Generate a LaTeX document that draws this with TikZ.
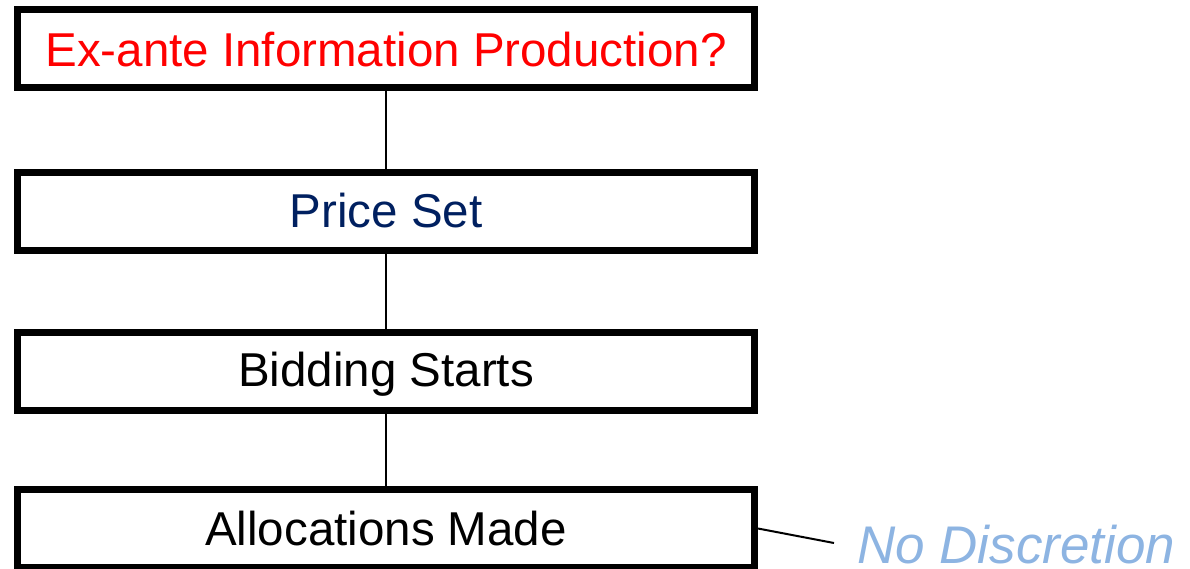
\documentclass[tikz,border=0pt]{standalone}
\usepackage{fontspec}
\setmainfont{Liberation Sans}
\definecolor{exred}{RGB}{255,0,0}
\definecolor{navy}{RGB}{0,32,96}
\definecolor{lightblue}{RGB}{141,180,226}
\begin{document}
\begin{tikzpicture}[x=1pt,y=-1pt,
  stagebox/.style={draw=black,line width=7pt,fill=white,minimum width=737pt,minimum height=78pt,inner sep=0pt,
    text depth=0pt,font=\fontsize{47.5}{56}\selectfont},
  conn/.style={draw=black,line width=2pt}]
\useasboundingbox (0,0) rectangle (1190,568);
\node[stagebox,text=exred,text height=35pt] (b1) at (386,48.5) {Ex-ante Information Production?};
\node[stagebox,text=navy,text height=32pt] (b2) at (386,211) {Price Set};
\node[stagebox,text height=29pt] (b3) at (386,371.5) {Bidding Starts};
\node[stagebox,text height=33pt] (b4) at (386,528.5) {Allocations Made};
\node[anchor=base west,text=lightblue,inner sep=0pt,text depth=0pt,font=\fontsize{53}{60}\selectfont\itshape] (nd) at (857,563) {No Discretion};
\coordinate (ce) at (834,543);
\draw[conn] (b1.south) -- (b2.north);
\draw[conn] (b2.south) -- (b3.north);
\draw[conn] (b3.south) -- (b4.north);
\draw[conn] (b4.east) -- (ce);
\end{tikzpicture}
\end{document}
